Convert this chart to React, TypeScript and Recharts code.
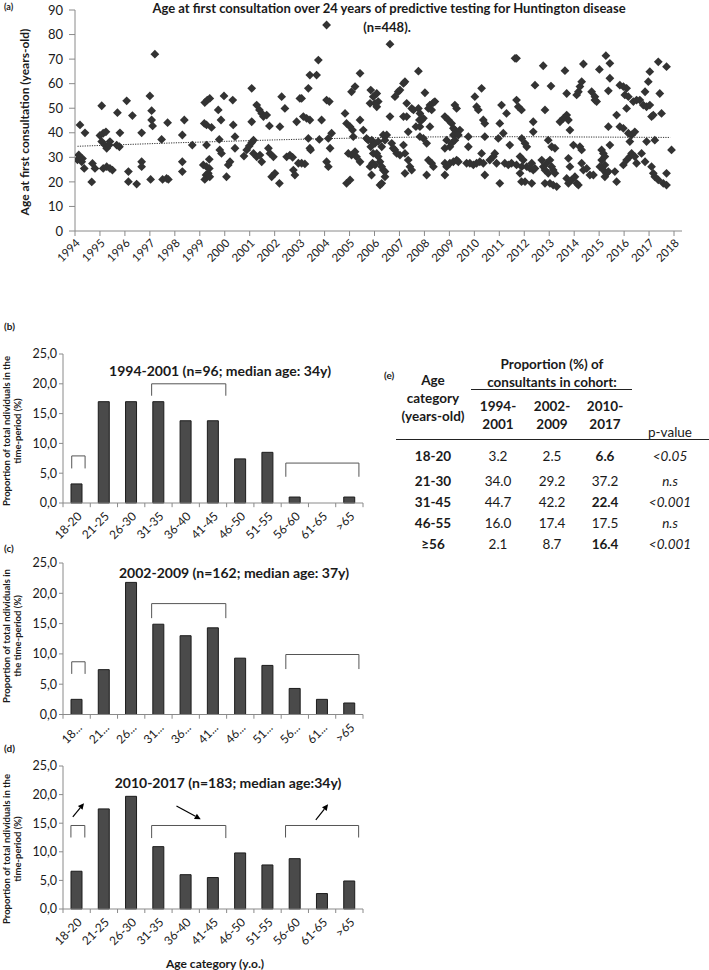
import React from 'react';
import { ScatterChart, Scatter, BarChart, Bar, XAxis, YAxis, ReferenceLine } from 'recharts';

const FONT = 'Lato, "Open Sans", sans-serif';
const AXIS = '#8a8a8a';
const INK = '#1a1a1a';

// (a) scatter: [year, age at first consultation]
const yearTicks = [1994, 1995, 1996, 1997, 1998, 1999, 2000, 2001, 2002, 2003, 2004, 2005, 2006, 2007, 2008, 2009, 2010, 2011, 2012, 2013, 2014, 2015, 2016, 2017, 2018];
const ageTicks = [0, 10, 20, 30, 40, 50, 60, 70, 80, 90];

const consult1994to2001 = [
  [1994.1, 29], [1994.15, 31], [1994.2, 43.2], [1994.2, 30], [1994.27, 28.2], [1994.3, 29.5], [1994.37, 25.5], [1994.4, 40], [1994.67, 20], [1994.7, 27.5], [1994.8, 25.5],
  [1995.07, 51], [1995.0, 38.9], [1995.13, 39.8], [1995.24, 40.4], [1995.07, 36.4], [1995.2, 35], [1995.27, 33.7], [1995.4, 36.4], [1995.37, 35], [1995.13, 25.5], [1995.27, 26.2], [1995.4, 25.5], [1995.5, 24.8], [1995.7, 48.2], [1995.8, 40], [1995.67, 35], [1995.78, 34.3],
  [1996.07, 53], [1996.14, 24.2], [1996.14, 20.1], [1996.3, 47], [1996.47, 19.1], [1996.67, 40], [1996.67, 28.2], [1996.67, 26.2],
  [1997.0, 55], [1997.07, 49], [1997.07, 45.2], [1997.11, 42.8], [1997.03, 21], [1997.2, 72], [1997.47, 37.3], [1997.51, 21], [1997.67, 21.4], [1997.74, 21], [1997.71, 44.1],
  [1998.3, 39.1], [1998.38, 45.2], [1998.3, 28.2], [1998.3, 24.2], [1998.7, 35],
  [1999.2, 52.3], [1999.3, 53.3], [1999.4, 54], [1999.18, 43.8], [1999.27, 43.2], [1999.47, 42.2], [1999.27, 35], [1999.38, 29.2], [1999.14, 26.9], [1999.27, 26.2], [1999.38, 25.5], [1999.25, 22.8], [1999.34, 23.5], [1999.2, 21], [1999.4, 22.1], [1999.74, 49.3], [1999.78, 37.3], [1999.8, 33], [1999.87, 31.6], [1999.85, 45.2],
  [1999.97, 55], [2000.07, 22.1], [2000.32, 53.3], [2000.21, 28.2], [2000.14, 26.9], [2000.34, 43.2], [2000.41, 38.4], [2000.41, 33.7], [2000.77, 30.5], [2000.88, 33], [2000.98, 34.6],
  [2001.08, 36], [2001.15, 37], [2001.08, 58.1], [2001.08, 44.5], [2001.28, 51.3], [2001.39, 49.3], [2001.48, 47.9], [2001.55, 46.6], [2001.68, 47.2], [2001.79, 42.8], [2001.15, 31.6], [2001.28, 30.2], [2001.41, 30.9], [2001.48, 28.2], [2001.81, 31.6], [2001.75, 33.7], [2001.95, 30.2], [2001.88, 22.1],
];

const consult2002to2009 = [
  [2002.01, 23.5], [2002.19, 19.4], [2002.21, 42.5], [2002.28, 54.7], [2002.41, 49.9], [2002.48, 30.2], [2002.61, 30.9], [2002.72, 30], [2002.75, 24.8], [2002.81, 22.8], [2002.88, 44.5], [2002.95, 27.6],
  [2003.01, 54], [2003.08, 54], [2003.35, 58.1], [2003.08, 27.6], [2003.21, 27.3], [2003.15, 46.6], [2003.28, 45.9], [2003.41, 45.2], [2003.35, 37.7], [2003.41, 33.7], [2003.44, 33], [2003.41, 63.5], [2003.68, 63.5], [2003.75, 69.6], [2003.88, 45.2], [2003.79, 37.3],
  [2004.08, 83.9], [2004.08, 53.3], [2004.19, 52.7], [2004.15, 37.7], [2004.22, 33.7], [2004.28, 39.8], [2004.08, 28.2], [2004.15, 26.2], [2004.82, 47.9], [2004.88, 43.8], [2004.88, 19.4], [2004.95, 31.6],
  [2005.02, 42.5], [2005.12, 41.1], [2005.15, 38.4], [2005.02, 20.8], [2005.08, 30.9], [2005.22, 32.3], [2005.28, 30.2], [2005.42, 28.2], [2005.08, 56.7], [2005.22, 58.8], [2005.42, 64.2], [2005.42, 45.2], [2005.55, 41.1], [2005.68, 37.7], [2005.75, 37], [2005.82, 52], [2005.82, 26.2], [2005.88, 22.8],
  [2005.85, 57.4], [2005.95, 54.7], [2005.89, 37], [2005.85, 34.3], [2005.95, 31.6], [2005.92, 27.6],
  [2006.62, 76.1], [2006.09, 56], [2006.02, 52], [2006.15, 52.7], [2006.09, 50.6], [2006.02, 35.7], [2006.15, 36.4], [2006.29, 34.3], [2006.35, 39.1], [2006.49, 39.1], [2006.42, 37], [2006.09, 31.6], [2006.15, 30.3], [2006.22, 28.2], [2006.02, 26.9], [2006.29, 26.2], [2006.35, 24.8], [2006.42, 24.2], [2006.42, 22.1], [2006.22, 18.7], [2006.29, 19.4], [2006.62, 46.6], [2006.69, 35.7], [2006.75, 33.7], [2006.82, 33], [2006.89, 31.6], [2006.82, 54.7], [2006.95, 56.7],
  [2007.02, 30.9], [2007.16, 35], [2007.22, 31.6], [2007.02, 57.4], [2007.16, 60.1], [2007.22, 60.8], [2007.29, 52], [2007.49, 49.9], [2007.56, 49.3], [2007.16, 46.6], [2007.29, 46.6], [2007.35, 40.4], [2007.35, 28.9], [2007.42, 26.2], [2007.49, 24.8], [2007.22, 23.5], [2007.76, 65.1], [2007.76, 49.9], [2007.82, 47.9], [2007.8, 45.2], [2007.89, 45.2], [2007.96, 45.9], [2007.66, 42.5], [2007.82, 42.5], [2007.82, 38.4], [2007.96, 37.7],
  [2008.02, 56.3], [2008.22, 51.3], [2008.36, 52.3], [2008.42, 52.7], [2008.29, 49.3], [2008.16, 49.9], [2008.09, 35.7], [2008.22, 42.5], [2008.16, 28.9], [2008.29, 27.6], [2008.36, 26.2], [2008.09, 22.8], [2008.82, 46.6], [2008.96, 45.2], [2008.89, 37], [2008.82, 33.7], [2008.82, 27.6], [2008.89, 26.2], [2008.82, 22.8],
  [2009.09, 43.8], [2009.16, 41.8], [2009.22, 41.1], [2009.29, 39.8], [2009.42, 41.1], [2009.16, 39.1], [2009.36, 39.1], [2009.22, 51.3], [2009.29, 49.9], [2009.02, 34.3], [2009.09, 35.7], [2009.22, 37], [2009.02, 27.6], [2009.16, 28.2], [2009.29, 28.9], [2009.36, 28.2], [2009.76, 38.4], [2009.76, 34.3], [2009.69, 27.6], [2009.82, 27.6], [2009.96, 26.9],
];

const consult2010to2017 = [
  [2010.09, 27.6], [2010.22, 28.2], [2010.29, 31.6], [2010.36, 27.6], [2010.02, 54.7], [2010.09, 50.6], [2010.16, 49.3], [2010.29, 58.1], [2010.36, 45.2], [2010.42, 43.8], [2010.42, 38.4], [2010.42, 22.8], [2010.62, 28.9], [2010.76, 30.3], [2010.89, 27.6], [2010.82, 31.6], [2010.96, 37.7],
  [2011.02, 43.8], [2011.16, 39.8], [2011.09, 51.3], [2011.29, 47.9], [2011.02, 19.4], [2011.22, 27.6], [2011.36, 26.9], [2011.49, 27.6], [2011.69, 26.9], [2011.42, 35], [2011.63, 70.3], [2011.69, 70.3], [2011.69, 53.3], [2011.76, 50.6], [2011.89, 49.3], [2011.89, 20.1], [2011.9, 37.7], [2011.83, 30.3], [2011.96, 28.9], [2011.9, 26.2], [2011.83, 23.5],
  [2012.03, 35.7], [2012.1, 34.3], [2012.1, 26.2], [2012.23, 25.5], [2012.3, 27.6], [2012.36, 24.8], [2012.43, 25.5], [2012.03, 20.1], [2012.3, 19.4], [2012.36, 44.5], [2012.36, 40.4], [2012.43, 59.4], [2012.76, 67.3], [2012.83, 49.3], [2012.7, 28.9], [2012.76, 26.2], [2012.83, 24.8], [2012.9, 27.6], [2012.96, 23.5], [2012.96, 37], [2012.83, 19.4],
  [2013.1, 26.2], [2013.03, 28.9], [2013.16, 24.8], [2013.23, 23.5], [2013.1, 34.3], [2013.23, 33.7], [2013.03, 19.4], [2013.16, 18.7], [2013.3, 18.1], [2013.07, 59], [2013.43, 44.5], [2013.57, 45.9], [2013.7, 47.2], [2013.77, 45.2], [2013.83, 41.1], [2013.63, 65.3], [2013.7, 56], [2013.77, 29.6], [2013.83, 26.2], [2013.7, 21.4], [2013.77, 19.4], [2013.9, 20.8], [2013.97, 35],
  [2014.03, 22.1], [2014.1, 19.4], [2014.17, 18.7], [2014.23, 34.3], [2014.3, 33], [2014.1, 55.4], [2014.17, 56.7], [2014.23, 58.8], [2014.3, 60.8], [2014.37, 68], [2014.3, 27.6], [2014.37, 24.8], [2014.5, 25.5], [2014.63, 22.8], [2014.77, 22.8], [2014.7, 56.7], [2014.83, 54.7], [2014.9, 52.7], [2014.83, 53.3],
  [2015.01, 65.8], [2015.1, 33], [2015.17, 31.6], [2015.23, 30.3], [2015.1, 28.9], [2015.23, 26.9], [2015.03, 26.2], [2015.17, 24.8], [2015.3, 23.5], [2015.23, 22.1], [2015.37, 24.2], [2015.27, 71.4], [2015.43, 68.3], [2015.37, 57.1], [2015.43, 62.2], [2015.37, 42.5], [2015.43, 35], [2015.63, 24.2], [2015.7, 20.1], [2015.7, 47.2], [2015.83, 42.5], [2015.97, 41.8], [2015.83, 59.4], [2015.97, 58.8], [2015.97, 26.9],
  [2016.1, 58.1], [2016.03, 55.4], [2016.17, 54.7], [2016.1, 49.9], [2016.1, 28.9], [2016.23, 30.3], [2016.3, 31.6], [2016.43, 30.3], [2016.5, 27.6], [2016.17, 39.8], [2016.3, 39.1], [2016.23, 36.4], [2016.43, 40.4], [2016.37, 52.7], [2016.5, 53.3], [2016.63, 53.3], [2016.77, 51.3], [2016.9, 50.6], [2016.84, 56.7], [2016.97, 60.8], [2016.9, 36.4], [2016.84, 28.2], [2016.7, 31.6],
  [2017.03, 51.3], [2017.03, 64.9], [2017.37, 68.9], [2017.7, 66.9], [2017.1, 46.6], [2017.17, 47.2], [2017.43, 56], [2017.5, 47.9], [2017.23, 37], [2017.1, 26.2], [2017.17, 23.5], [2017.23, 22.1], [2017.37, 20.8], [2017.57, 19.4], [2017.7, 18.7], [2017.7, 23.5], [2017.9, 33],
];

// dotted trend line through the scatter
const trendYears = [1994.1, 1996, 1998, 2000, 2002, 2004, 2006, 2008, 2010, 2012, 2014, 2016, 2017.85];
const trendAges = [34.5, 35.2, 35.9, 36.5, 37.1, 37.6, 38.0, 38.3, 38.4, 38.4, 38.3, 38.2, 38.1];

// (b)-(d) age category histograms
const ageCategories = ['18-20', '21-25', '26-30', '31-35', '36-40', '41-45', '46-50', '51-55', '56-60', '61-65', '>65'];
const shortCategories = ['18...', '21...', '26...', '31...', '36...', '41...', '46...', '51...', '56...', '61...', '>65'];
const share1994to2001 = [3.2, 17.0, 17.0, 17.0, 13.8, 13.8, 7.4, 8.5, 1.0, 0, 1.0];
const share2002to2009 = [2.5, 7.4, 21.8, 14.9, 13.0, 14.3, 9.3, 8.1, 4.3, 2.5, 1.9];
const share2010to2017 = [6.6, 17.5, 19.7, 10.9, 6.0, 5.5, 9.8, 7.7, 8.8, 2.7, 4.9];
const shareTicks = [0, 5, 10, 15, 20, 25];

// (e) table
const tableGroups = ['18-20', '21-30', '31-45', '46-55', '≥56'];
const tableP1 = ['3.2', '34.0', '44.7', '16.0', '2.1'];
const tableP2 = ['2.5', '29.2', '42.2', '17.4', '8.7'];
const tableP3 = ['6.6', '37.2', '22.4', '17.5', '16.4'];
const tableP3Bold = [true, false, true, false, true];
const tablePValues = ['<0.05', 'n.s', '<0.001', 'n.s', '<0.001'];

const scatterPoints = [...consult1994to2001, ...consult2002to2009, ...consult2010to2017].map(([x, y]) => ({ x, y }));
const trendPoints = trendYears.map((x, i) => ({ x, y: trendAges[i] }));

const Diamond = (props: any) => {
  const { cx, cy } = props;
  if (cx == null || cy == null) return <g />;
  const r = 4.4;
  return <polygon points={`${cx},${cy - r} ${cx + r},${cy} ${cx},${cy + r} ${cx - r},${cy}`} fill="#333" />;
};

const Arrow = (props: any) => {
  const { x1, y1, x2, y2 } = props;
  const a = Math.atan2(y2 - y1, x2 - x1);
  const L = 6, W = 3;
  const bx = x2 - L * Math.cos(a), by = y2 - L * Math.sin(a);
  const p1 = `${bx + W * Math.sin(a)},${by - W * Math.cos(a)}`;
  const p2 = `${bx - W * Math.sin(a)},${by + W * Math.cos(a)}`;
  return (
    <g>
      <line x1={x1} y1={y1} x2={bx} y2={by} stroke="#000" strokeWidth={1.2} />
      <polygon points={`${x2},${y2} ${p1} ${p2}`} fill="#000" />
    </g>
  );
};

const fmtComma = (v: number) => v.toFixed(1).replace('.', ',');

type Bracket = [number, number, number, number]; // x-left, x-right, y-top, y-foot (band units, y in %)

function AgePanel({ top, plotH, labels, values, brackets, arrows = [] }: {
  top: number; plotH: number; labels: string[]; values: number[]; brackets: Bracket[]; arrows?: number[][];
}) {
  // idx = band centre on a 0..11 scale, so annotations can sit between bars
  const rows = labels.map((c, i) => ({ cat: c, v: values[i], idx: i + 0.5 }));
  const bounds = labels.map((_, i) => i).concat([labels.length]);
  return (
    <div style={{ position: 'absolute', left: 0, top }}>
      <BarChart width={380} height={14 + plotH + 50} data={rows} margin={{ top: 14, right: 17, bottom: 0, left: 0 }} barSize={11}>
        <XAxis xAxisId="c" dataKey="cat" interval={0} angle={-45} textAnchor="end" tickLine={false} height={50}
          stroke={AXIS} tick={{ fontSize: 12, fill: INK, fontFamily: FONT }} tickMargin={2} />
        <XAxis xAxisId="n" dataKey="idx" type="number" domain={[0, 11]} hide allowDataOverflow />
        <YAxis domain={[0, 25]} ticks={shareTicks} interval={0} tickFormatter={fmtComma} width={63} tickSize={4}
          stroke={AXIS} tick={{ fontSize: 12.5, fill: INK, fontFamily: FONT }} />
        <Bar xAxisId="c" dataKey="v" fill="#4a4a4a" stroke="#1c1c1c" strokeWidth={1} isAnimationActive={false} />
        {bounds.map((i) => (
          <ReferenceLine key={'t' + i} xAxisId="n" segment={[{ x: i, y: 0 }, { x: i, y: -0.7 }]} ifOverflow="visible" stroke={AXIS} />
        ))}
        {brackets.flatMap(([xl, xr, yt, yf], k) => [
          <ReferenceLine key={'bl' + k} xAxisId="n" segment={[{ x: xl, y: yf }, { x: xl, y: yt }]} ifOverflow="visible" stroke="#555" />,
          <ReferenceLine key={'bt' + k} xAxisId="n" segment={[{ x: xl, y: yt }, { x: xr, y: yt }]} ifOverflow="visible" stroke="#555" />,
          <ReferenceLine key={'br' + k} xAxisId="n" segment={[{ x: xr, y: yt }, { x: xr, y: yf }]} ifOverflow="visible" stroke="#555" />,
        ])}
        {arrows.map(([xa, ya, xb, yb], k) => (
          <ReferenceLine key={'a' + k} xAxisId="n" segment={[{ x: xa, y: ya }, { x: xb, y: yb }]} ifOverflow="visible" shape={(p: any) => <Arrow {...p} />} />
        ))}
      </BarChart>
    </div>
  );
}

function YLabel2({ x, cy, lines }: { x: number; cy: number; lines: string[] }) {
  return (
    <>
      {lines.map((t, i) => (
        <text key={i} transform={`translate(${x + i * 11}, ${cy}) rotate(-90)`} textAnchor="middle" fontSize={9.5} fontWeight="bold" fill={INK}>{t}</text>
      ))}
    </>
  );
}

export default function App() {
  const colX = [498, 552, 605];
  const rowY = [456, 481, 502, 523, 544];
  return (
    <div style={{ position: 'absolute', left: 0, top: 0, width: 709, height: 970, background: '#fff', fontFamily: FONT, overflow: 'hidden' }}>
      <div style={{ position: 'absolute', left: 0, top: 0 }}>
        <ScatterChart width={709} height={290} margin={{ top: 10, right: 27, bottom: 0, left: 0 }}>
          <XAxis type="number" dataKey="x" domain={[1994, 2018.32]} ticks={yearTicks} interval={0} allowDataOverflow
            angle={-45} textAnchor="end" height={59} tickSize={5} stroke={AXIS}
            tick={{ fontSize: 11.5, fill: INK, fontFamily: FONT }} />
          <YAxis type="number" dataKey="y" domain={[0, 90]} ticks={ageTicks} interval={0} width={75} tickSize={6} tickMargin={6}
            stroke={AXIS} tick={{ fontSize: 13, fill: INK, fontFamily: FONT }} />
          <Scatter data={scatterPoints} shape={Diamond} isAnimationActive={false} />
          <Scatter data={trendPoints} shape={() => <g />} line={{ stroke: '#333', strokeWidth: 1, strokeDasharray: '1.2 1.2' }} isAnimationActive={false} />
        </ScatterChart>
      </div>

      <AgePanel top={340} plotH={149} labels={ageCategories} values={share1994to2001}
        brackets={[[0.32, 0.81, 7.9, 5.8], [3.25, 5.97, 20.0, 18.0], [8.17, 10.85, 6.7, 4.4]]} />
      <AgePanel top={548.5} plotH={151.5} labels={shortCategories} values={share2002to2009}
        brackets={[[0.32, 0.81, 8.7, 6.7], [3.25, 5.97, 18.3, 15.9], [8.17, 10.85, 9.9, 7.5]]} />
      <AgePanel top={751.7} plotH={143} labels={ageCategories} values={share2010to2017}
        brackets={[[0.29, 0.8, 14.6, 12.5], [3.25, 5.97, 14.6, 12.4], [8.16, 10.84, 14.6, 12.5]]}
        arrows={[[0.36, 16.1, 0.77, 18.5], [4.16, 18.0, 5.05, 15.7], [9.27, 15.6, 9.72, 18.3]]} />

      <svg width={709} height={970} style={{ position: 'absolute', left: 0, top: 0, pointerEvents: 'none' }} fontFamily={FONT}>
        <text x={4} y={10} fontSize={9} fontWeight="bold" fill={INK}>(a)</text>
        <text x={389} y={12.5} fontSize={13} fontWeight="bold" textAnchor="middle" fill={INK}>Age at first consultation over 24 years of predictive testing for Huntington disease</text>
        <text x={387} y={31.5} fontSize={13} fontWeight="bold" textAnchor="middle" fill={INK}>(n=448).</text>
        <text transform="translate(29, 122) rotate(-90)" fontSize={12} fontWeight="bold" textAnchor="middle" fill={INK}>Age at first consultation (years-old)</text>

        <text x={4} y={330} fontSize={10} fontWeight="bold" fill={INK}>(b)</text>
        <text x={220} y={376} fontSize={14} fontWeight="bold" textAnchor="middle" fill={INK}>1994-2001 (n=96; median age: 34y)</text>
        <YLabel2 x={10} cy={431} lines={['Proportion of total ndividuals in the', 'time-period (%)']} />

        <text x={4} y={552} fontSize={10} fontWeight="bold" fill={INK}>(c)</text>
        <text x={234} y={578} fontSize={14} fontWeight="bold" textAnchor="middle" fill={INK}>2002-2009 (n=162; median age: 37y)</text>
        <YLabel2 x={10} cy={636} lines={['Proportion of total ndividuals in', 'the time-period (%)']} />

        <text x={4} y={752} fontSize={10} fontWeight="bold" fill={INK}>(d)</text>
        <text x={228} y={788} fontSize={14} fontWeight="bold" textAnchor="middle" fill={INK}>2010-2017 (n=183; median age:34y)</text>
        <YLabel2 x={10} cy={849} lines={['Proportion of total ndividuals in the', 'time-period (%)']} />
        <text x={215} y={968} fontSize={12} fontWeight="bold" textAnchor="middle" fill={INK}>Age category (y.o.)</text>

        <text x={384} y={379} fontSize={10} fontWeight="bold" fill={INK}>(e)</text>
        <g fontSize={13.5} fill={INK} dominantBaseline="central" textAnchor="middle">
          <text x={433} y={380} fontWeight="bold">Age</text>
          <text x={433} y={398} fontWeight="bold">category</text>
          <text x={433} y={416} fontWeight="bold">(years-old)</text>
          <text x={552} y={364} fontWeight="bold">Proportion (%) of</text>
          <text x={552} y={382} fontWeight="bold">consultants in cohort:</text>
          <text x={colX[0]} y={406} fontWeight="bold">1994-</text>
          <text x={colX[0]} y={424} fontWeight="bold">2001</text>
          <text x={colX[1]} y={406} fontWeight="bold">2002-</text>
          <text x={colX[1]} y={424} fontWeight="bold">2009</text>
          <text x={colX[2]} y={406} fontWeight="bold">2010-</text>
          <text x={colX[2]} y={424} fontWeight="bold">2017</text>
          <text x={670} y={432}>p-value</text>
          {tableGroups.map((g, i) => (
            <g key={g}>
              <text x={433} y={rowY[i]} fontWeight="bold">{g}</text>
              <text x={colX[0]} y={rowY[i]}>{tableP1[i]}</text>
              <text x={colX[1]} y={rowY[i]}>{tableP2[i]}</text>
              <text x={colX[2]} y={rowY[i]} fontWeight={tableP3Bold[i] ? 'bold' : 'normal'}>{tableP3[i]}</text>
              <text x={670} y={rowY[i]} fontStyle="italic">{tablePValues[i]}</text>
            </g>
          ))}
        </g>
        <line x1={471} y1={389.5} x2={632} y2={389.5} stroke="#222" strokeWidth={1} />
        <line x1={396} y1={439.5} x2={709} y2={439.5} stroke="#222" strokeWidth={1} />
      </svg>
    </div>
  );
}
